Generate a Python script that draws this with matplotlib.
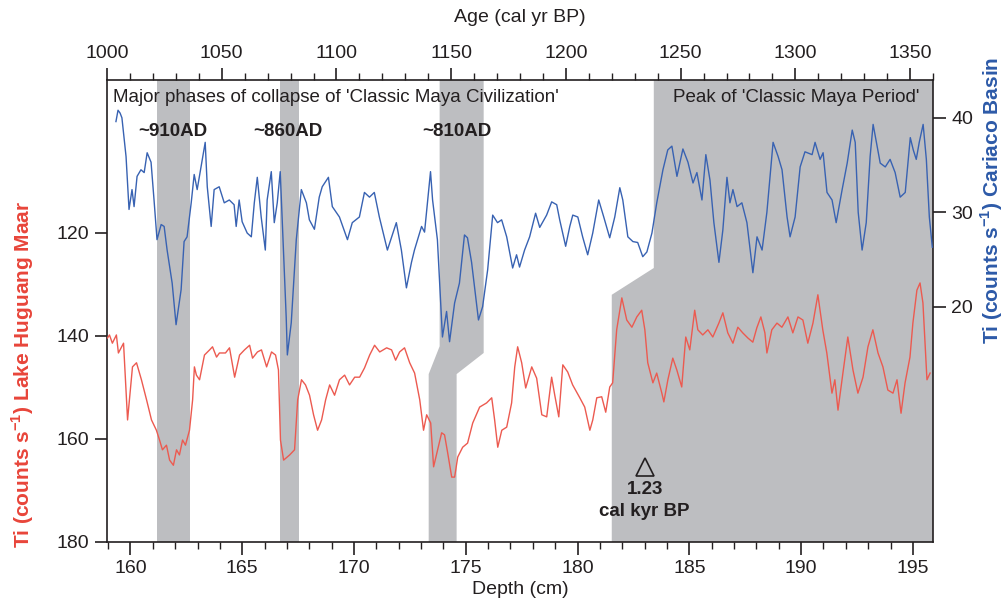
import matplotlib
matplotlib.use("Agg")
import matplotlib.pyplot as plt
from matplotlib.patches import Polygon
from matplotlib.ticker import MultipleLocator

plt.rcParams['font.family'] = ['Liberation Sans', 'DejaVu Sans']

# ---------------- data ----------------
# Cariaco Basin Ti (right axis) vs age (top axis)
cariaco_age = [1003.9, 1004.8, 1005.7, 1006.5, 1008.3, 1009.6, 1010.9, 1011.8, 1013.1, 1014.8,
               1016.2, 1017.5, 1019.2, 1020.5, 1021.8, 1023.6, 1024.9, 1026.2, 1028.4, 1030.1,
               1032.3, 1033.6, 1034.9, 1036.7, 1038.0, 1039.3, 1041.0, 1042.8, 1043.7, 1045.4,
               1046.7, 1048.9, 1051.1, 1053.3, 1055.4, 1056.3, 1057.6, 1058.9, 1061.1, 1062.9,
               1064.2, 1065.5, 1067.2, 1069.0, 1069.8, 1071.6, 1072.9, 1074.2, 1075.5, 1076.4,
               1078.1, 1078.6, 1080.3, 1082.5, 1084.7, 1086.9, 1088.2, 1090.4, 1092.5, 1093.8,
               1096.5, 1098.2, 1101.3, 1104.8, 1106.9, 1110.0, 1112.2, 1114.4, 1116.5, 1118.7,
               1122.2, 1126.1, 1128.3, 1130.5, 1132.7, 1134.0, 1137.1, 1138.4, 1141.0, 1141.9,
               1144.0, 1146.2, 1148.0, 1149.3, 1151.5, 1153.6, 1155.8, 1157.1, 1158.9, 1161.9,
               1163.7, 1165.9, 1168.1, 1170.2, 1172.0, 1174.2, 1176.8, 1178.5, 1179.8, 1182.0,
               1184.2, 1186.8, 1188.6, 1191.6, 1193.8, 1196.0, 1197.3, 1199.9, 1201.7, 1203.0,
               1205.2, 1207.3, 1209.5, 1211.7, 1214.3, 1216.5, 1219.1, 1221.3, 1223.5, 1224.8,
               1227.0, 1229.2, 1231.3, 1233.5, 1235.3, 1237.5, 1239.6, 1242.3, 1244.4, 1246.2,
               1248.4, 1251.0, 1253.2, 1255.4, 1257.1, 1259.3, 1261.0, 1262.8, 1264.5, 1266.7,
               1268.4, 1270.2, 1271.5, 1272.8, 1274.6, 1276.7, 1278.9, 1281.5, 1283.3, 1285.5,
               1287.6, 1290.3, 1292.5, 1294.2, 1296.4, 1297.7, 1299.9, 1302.1, 1304.2, 1307.3,
               1308.6, 1310.8, 1312.1, 1313.8, 1316.0, 1317.8, 1320.4, 1322.6, 1324.8, 1326.1,
               1327.4, 1329.1, 1330.9, 1332.6, 1333.9, 1335.7, 1337.0, 1339.2, 1341.3, 1343.5,
               1345.7, 1347.9, 1350.1, 1351.4, 1352.7, 1354.0, 1355.7, 1357.1, 1358.4, 1359.7]
cariaco_ti = [39.6, 40.8, 40.5, 40.0, 35.9, 30.3, 32.4, 30.6, 33.8, 34.5,
              34.2, 36.3, 35.3, 31.3, 27.1, 28.7, 28.5, 26.0, 22.5, 18.1,
              21.8, 26.9, 27.4, 31.0, 34.0, 32.4, 34.8, 37.4, 32.7, 28.5,
              32.4, 32.7, 31.0, 31.3, 30.8, 28.5, 31.3, 29.0, 27.8, 27.4,
              31.0, 33.7, 29.5, 26.0, 31.3, 34.3, 28.9, 31.0, 34.3, 28.9,
              18.9, 14.9, 18.3, 27.1, 32.4, 31.0, 29.2, 28.2, 31.6, 32.7,
              33.7, 30.6, 29.5, 27.1, 28.9, 29.5, 32.1, 31.6, 32.1, 29.5,
              26.0, 28.9, 26.0, 22.0, 24.7, 26.0, 28.5, 27.9, 34.3, 31.3,
              27.1, 16.8, 19.5, 16.3, 20.4, 22.5, 27.6, 27.3, 24.7, 18.6,
              20.0, 23.9, 29.7, 28.9, 29.2, 27.4, 24.1, 25.5, 24.2, 26.0,
              27.4, 29.9, 28.4, 29.7, 31.1, 30.8, 29.2, 26.4, 28.5, 29.7,
              29.5, 27.4, 25.5, 27.8, 31.3, 29.5, 27.3, 29.5, 32.6, 31.3,
              27.4, 26.9, 26.8, 25.3, 25.8, 27.8, 31.0, 34.5, 36.6, 37.0,
              33.8, 36.7, 35.3, 33.1, 34.2, 31.3, 36.1, 33.4, 28.9, 24.7,
              28.1, 33.7, 31.0, 32.4, 30.6, 31.0, 28.9, 23.6, 27.4, 26.0,
              30.0, 37.4, 35.9, 34.5, 29.5, 27.4, 29.5, 34.8, 36.4, 36.1,
              37.4, 35.6, 36.3, 32.1, 31.3, 28.9, 32.4, 35.2, 38.7, 37.4,
              30.0, 26.0, 28.9, 35.9, 39.3, 36.9, 35.2, 34.8, 35.6, 34.2,
              31.6, 32.1, 37.9, 36.6, 35.6, 37.4, 39.3, 35.6, 29.5, 26.3]

# Lake Huguang Maar Ti (left axis, inverted) vs depth (bottom axis)
huguang_depth = [158.97, 159.06, 159.19, 159.37, 159.46, 159.69, 159.87, 160.09, 160.27, 160.49,
                 160.72, 160.94, 161.16, 161.30, 161.43, 161.61, 161.75, 161.92, 162.06, 162.19,
                 162.33, 162.46, 162.64, 162.78, 162.86, 162.95, 163.09, 163.31, 163.54, 163.67,
                 163.85, 163.98, 164.25, 164.43, 164.66, 164.88, 165.10, 165.33, 165.46, 165.68,
                 165.86, 166.09, 166.31, 166.49, 166.62, 166.71, 166.85, 167.12, 167.34, 167.48,
                 167.65, 167.83, 168.01, 168.19, 168.37, 168.55, 168.73, 168.91, 169.13, 169.35,
                 169.58, 169.80, 170.03, 170.25, 170.47, 170.70, 170.92, 171.15, 171.46, 171.68,
                 171.86, 172.04, 172.26, 172.49, 172.71, 172.94, 173.11, 173.25, 173.43, 173.56,
                 173.74, 173.92, 174.05, 174.19, 174.37, 174.50, 174.64, 174.86, 175.08, 175.31,
                 175.62, 175.93, 176.16, 176.29, 176.43, 176.61, 176.83, 177.05, 177.19, 177.32,
                 177.50, 177.68, 177.95, 178.17, 178.40, 178.62, 178.84, 178.98, 179.16, 179.34,
                 179.56, 179.78, 180.10, 180.32, 180.55, 180.68, 180.86, 181.08, 181.26, 181.44,
                 181.57, 181.75, 181.98, 182.20, 182.43, 182.65, 182.87, 183.01, 183.14, 183.37,
                 183.54, 183.77, 183.86, 184.04, 184.26, 184.44, 184.66, 184.84, 185.02, 185.24,
                 185.38, 185.60, 185.83, 186.05, 186.32, 186.50, 186.72, 186.95, 187.17, 187.39,
                 187.62, 187.84, 188.02, 188.20, 188.38, 188.47, 188.69, 188.92, 189.14, 189.41,
                 189.63, 189.86, 190.08, 190.30, 190.53, 190.75, 190.97, 191.15, 191.38, 191.51,
                 191.65, 191.87, 192.09, 192.32, 192.54, 192.77, 192.99, 193.21, 193.44, 193.66,
                 193.88, 194.11, 194.29, 194.47, 194.65, 194.87, 195.00, 195.18, 195.32, 195.45,
                 195.63, 195.77]
huguang_ti = [140.4, 139.8, 141.4, 139.8, 143.3, 141.4, 156.3, 146.0, 145.2, 148.5,
              152.4, 156.3, 158.3, 160.2, 162.1, 161.2, 164.1, 165.1, 162.1, 163.1,
              160.2, 161.2, 158.3, 152.4, 146.0, 147.6, 148.5, 143.7, 142.7, 142.1,
              144.1, 143.3, 143.3, 142.3, 148.0, 143.7, 142.7, 141.8, 144.3, 143.1,
              142.7, 146.0, 143.1, 143.7, 146.6, 160.2, 164.1, 163.1, 162.1, 152.4,
              148.5, 149.5, 151.5, 155.3, 158.3, 156.3, 152.4, 149.5, 151.5, 148.5,
              147.6, 149.5, 148.0, 148.0, 146.2, 143.7, 141.8, 143.1, 142.3, 142.7,
              144.7, 143.1, 142.3, 145.2, 147.2, 152.4, 158.3, 155.3, 156.9, 165.4,
              162.1, 158.8, 159.2, 162.7, 167.4, 167.4, 163.5, 161.6, 160.8, 156.9,
              153.8, 153.0, 152.0, 156.3, 161.6, 158.3, 157.7, 153.0, 146.0, 142.1,
              145.2, 150.1, 146.0, 148.2, 155.3, 155.7, 148.0, 151.5, 155.7, 145.6,
              147.0, 149.5, 152.0, 153.8, 158.3, 156.3, 152.0, 151.8, 154.8, 149.9,
              149.1, 138.8, 132.6, 136.9, 138.3, 136.3, 135.0, 138.8, 145.2, 149.1,
              147.2, 151.1, 152.8, 148.5, 144.3, 146.6, 149.9, 140.2, 142.7, 135.0,
              138.8, 139.8, 138.8, 140.2, 137.5, 135.5, 139.4, 141.4, 138.3, 139.4,
              140.4, 141.2, 138.4, 136.3, 139.4, 143.3, 138.8, 137.5, 138.3, 136.3,
              139.4, 136.3, 136.9, 141.4, 137.5, 132.0, 138.8, 143.3, 151.1, 148.5,
              154.4, 147.2, 140.2, 146.6, 151.1, 148.0, 142.1, 138.8, 143.3, 146.0,
              150.5, 151.1, 148.5, 155.0, 149.1, 144.1, 137.5, 131.1, 129.7, 133.6,
              148.5, 147.2]

# shaded phases (depth in cm, Ti in counts/s on the left axis)
collapse_910 = (161.17, 162.65)
collapse_860 = (166.67, 167.56)
collapse_810_depth = [173.83, 175.80, 175.80, 174.59, 174.59, 173.34, 173.34, 173.83]
collapse_810_ti = [90.3, 90.3, 143.3, 147.4, 180.0, 180.0, 147.4, 142.0]
peak_depth = [183.41, 195.9, 195.9, 181.53, 181.53, 183.41]
peak_ti = [90.3, 90.3, 180.0, 180.0, 132.0, 126.8]

date_depth = 183.0  # 1.23 cal kyr BP tie point

depth_lim = (158.95, 195.9)
left_lim = (180, 90.3)
age_lim = (1000, 1360)
right_lim = (-4.9, 44.0)
left_ticks = [120, 140, 160, 180]
right_ticks = [20, 30, 40]

# ---------------- style ----------------
RED_LINE = '#ec5a50'
RED_LAB = '#e8453a'
BLUE_LINE = '#3862b2'
BLUE_LAB = '#2d5aa8'
GRAY = '#bdbec1'
TXT = '#231f20'

W, H = 1007, 601
fig = plt.figure(figsize=(W / 100, H / 100), dpi=100)
pos = [107 / W, 1 - 542 / H, 826 / W, 462 / H]
ax = fig.add_axes(pos)
ax.set_xlim(*depth_lim)
ax.set_ylim(*left_lim)

for lo, hi in (collapse_910, collapse_860):
    ax.axvspan(lo, hi, color=GRAY, lw=0, zorder=1)
ax.add_patch(Polygon(list(zip(collapse_810_depth, collapse_810_ti)), closed=True,
                     facecolor=GRAY, edgecolor='none', zorder=1))
ax.add_patch(Polygon(list(zip(peak_depth, peak_ti)), closed=True,
                     facecolor=GRAY, edgecolor='none', zorder=1))

ax.plot(huguang_depth, huguang_ti, color=RED_LINE, lw=1.0, zorder=3)

ax.set_yticks(left_ticks)
ax.xaxis.set_major_locator(MultipleLocator(5))
ax.xaxis.set_minor_locator(MultipleLocator(1))
ax.tick_params(axis='both', which='major', direction='out', length=9, width=1.2,
               labelsize=14, colors=TXT, pad=4)
ax.tick_params(axis='x', which='minor', direction='out', length=5, width=1.0, colors=TXT)
ax.tick_params(top=False, right=False)
for s in ax.spines.values():
    s.set_linewidth(1.2)
    s.set_color(TXT)

ax2 = fig.add_axes(pos, frameon=False)
ax2.patch.set_visible(False)
ax2.set_xlim(*age_lim)
ax2.set_ylim(*right_lim)
ax2.plot(cariaco_age, cariaco_ti, color=BLUE_LINE, lw=1.0, zorder=3)
ax2.xaxis.tick_top()
ax2.yaxis.tick_right()
ax2.set_yticks(right_ticks)
ax2.xaxis.set_major_locator(MultipleLocator(50))
ax2.xaxis.set_minor_locator(MultipleLocator(10))
ax2.tick_params(axis='both', which='major', direction='out', length=9, width=1.2,
                labelsize=14, colors=TXT, pad=4)
ax2.tick_params(axis='x', which='minor', direction='out', length=5, width=1.0, colors=TXT)
ax2.tick_params(bottom=False, left=False, labelbottom=False, labelleft=False)

# ---------------- text ----------------
fig.text(520 / W, 1 - 18 / H, 'Age (cal yr BP)', ha='center', va='center', fontsize=14, color=TXT)
fig.text(520 / W, 1 - 590 / H, 'Depth (cm)', ha='center', va='center', fontsize=14, color=TXT)
fig.text(23 / W, 1 - 374 / H, r'Ti (counts s$^{\mathregular{-1}}$) Lake Huguang Maar',
         rotation=90, ha='center', va='center', fontsize=15, fontweight='bold', color=RED_LAB)
fig.text(992 / W, 1 - 200 / H, r'Ti (counts s$^{\mathregular{-1}}$) Cariaco Basin',
         rotation=90, ha='center', va='center', fontsize=15, fontweight='bold', color=BLUE_LAB)

fig.text(113 / W, 1 - 97 / H, "Major phases of collapse of 'Classic Maya Civilization'",
         ha='left', va='center', fontsize=13.5, color=TXT)
fig.text(919 / W, 1 - 97 / H, "Peak of 'Classic Maya Period'",
         ha='right', va='center', fontsize=13.5, color=TXT)
for lab, xp in (('~910AD', 173), ('~860AD', 288), ('~810AD', 457)):
    fig.text(xp / W, 1 - 132 / H, lab, ha='center', va='center', fontsize=13.5,
             fontweight='bold', color=TXT)

ax.plot([date_depth], [165.5], marker='^', ms=13, mfc='none', mec=TXT, mew=1.2, zorder=4)
ax.text(date_depth, 169.8, '1.23', ha='center', va='center', fontsize=13.5,
        fontweight='bold', color=TXT, zorder=4)
ax.text(date_depth, 174.0, 'cal kyr BP', ha='center', va='center', fontsize=13.5,
        fontweight='bold', color=TXT, zorder=4)

fig.savefig('out.png', dpi=100)
